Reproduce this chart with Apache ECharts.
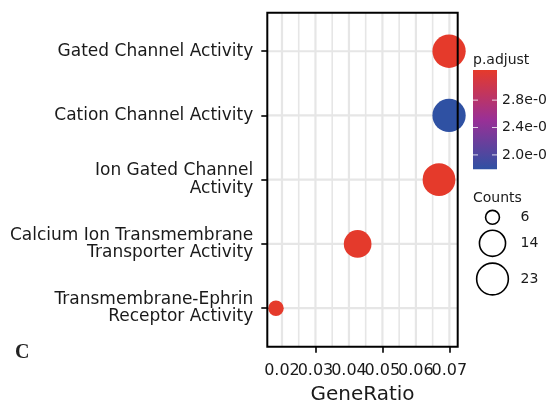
<!DOCTYPE html>
<html><head><meta charset="utf-8">
<script src="https://cdn.jsdelivr.net/npm/echarts@6/dist/echarts.min.js"></script>
<style>html,body{margin:0;padding:0;background:#fff}#c{width:547px;height:404px}</style>
</head><body><div id="c"></div>
<script>
// ---- data ----
const categories = ['Gated Channel Activity', 'Cation Channel Activity', 'Ion Gated Channel\nActivity', 'Calcium Ion Transmembrane\nTransporter Activity', 'Transmembrane-Ephrin\nReceptor Activity'];
const geneRatio = [0.0699, 0.0699, 0.0669, 0.0426, 0.0182];
const counts = [23, 23, 22, 14, 6];
const pAdjust = [3.24, 1.79, 3.24, 3.23, 3.24]; // mantissa of p.adjust
const xTicks = [0.02, 0.03, 0.04, 0.05, 0.06, 0.07];
const xMinor = [0.025, 0.035, 0.045, 0.055, 0.065];
const colorTicks = [2.0, 2.4, 2.8];
const colorTickLabels = ['2.0e-0', '2.4e-0', '2.8e-0'];
const sizeBreaks = [6, 14, 23];
const sizeLabels = ['6', '14', '23'];
const panelLabel = 'C';

// ---- scales ----
const pMin = Math.min(...pAdjust), pMax = Math.max(...pAdjust);
const cMin = Math.min(...counts), cMax = Math.max(...counts);
const dMin = 15.5, dMax = 33.3;
const sizeOf = c => dMin + (dMax - dMin) * Math.sqrt((c - cMin) / (cMax - cMin));
const xr = Math.max(...geneRatio) - Math.min(...geneRatio);
const xMin = Math.min(...geneRatio) - 0.05 * xr, xMax = Math.max(...geneRatio) + 0.05 * xr;
const yMin = -0.6, yMax = categories.length - 0.4;

const G = {left: 267.3, top: 12.7, width: 190.4, height: 334};
const blue = '#2f51a3', purple = '#9a3096', red = '#e53a2b';
const gridCol = '#e6e6e6';

// colorbar legend geometry
const cb = {x: 473, y: 70, w: 24, h: 99.3};
const cbY = v => cb.y + cb.h - (v - pMin) / (pMax - pMin) * cb.h;
const txt = '#1a1a1a';
const lf = '14px "DejaVu Sans"';
const graphic = [
  {type: 'rect', z: 50, silent: true, shape: {x: G.left, y: G.top, width: G.width, height: G.height},
   style: {fill: 'none', stroke: '#000', lineWidth: 2}},
  {type: 'text', x: 473, y: 60, style: {text: 'p.adjust', font: lf, fill: txt, verticalAlign: 'middle'}},
  {type: 'rect', shape: {x: cb.x, y: cb.y, width: cb.w, height: cb.h},
   style: {fill: new echarts.graphic.LinearGradient(0, 1, 0, 0, [
     {offset: 0, color: blue}, {offset: 0.5, color: purple}, {offset: 1, color: red}])}},
  {type: 'text', x: 473, y: 198, style: {text: 'Counts', font: lf, fill: txt, verticalAlign: 'middle'}},
  {type: 'text', x: 15, y: 353, style: {text: panelLabel, font: 'bold 20px "Liberation Serif"', fill: '#222', verticalAlign: 'middle'}}
];
colorTicks.forEach((v, i) => {
  const y = cbY(v);
  graphic.push({type: 'line', shape: {x1: cb.x, y1: y, x2: cb.x + 5, y2: y}, style: {stroke: 'rgba(255,255,255,0.8)', lineWidth: 1}});
  graphic.push({type: 'line', shape: {x1: cb.x + cb.w - 5, y1: y, x2: cb.x + cb.w, y2: y}, style: {stroke: 'rgba(255,255,255,0.8)', lineWidth: 1}});
  graphic.push({type: 'text', x: 502, y: y, style: {text: colorTickLabels[i], font: lf, fill: txt, verticalAlign: 'middle'}});
});
const sizeY = [217.3, 243.3, 279];
sizeBreaks.forEach((c, i) => {
  const d = sizeOf(c);
  graphic.push({type: 'circle', shape: {cx: 492.5, cy: sizeY[i], r: d / 2 - 0.8}, style: {fill: 'none', stroke: '#000', lineWidth: 1.6}});
  graphic.push({type: 'text', x: 520.5, y: sizeY[i], style: {text: sizeLabels[i], font: lf, fill: txt, verticalAlign: 'middle'}});
});

const data = categories.map((c, i) => [geneRatio[i], i, counts[i], pAdjust[i]]);
// grid lines: [orientation (0 = vertical, 1 = horizontal), value, width]
const gridData = xMinor.map(v => [0, v, 1.6])
  .concat(xTicks.map(v => [0, v, 2.2]))
  .concat(categories.map((c, i) => [1, i, 2.2]));

const xLabelBase = {fontFamily: 'DejaVu Sans', fontSize: 16, color: txt, margin: 16,
  formatter: v => v.toFixed(2), hideOverlap: false, showMinLabel: true, showMaxLabel: true};
const xEven = xTicks.filter((v, i) => i % 2 === 0), xOdd = xTicks.filter((v, i) => i % 2 === 1);
const xAxisBase = (vals, withName) => ({
  type: 'value', min: xMin, max: xMax, position: 'bottom', gridIndex: 0,
  name: withName ? 'GeneRatio' : '', nameLocation: 'middle', nameGap: 38,
  nameTextStyle: {fontFamily: 'DejaVu Sans', fontSize: 20, color: txt},
  axisLine: {show: false},
  axisTick: {show: true, length: 6, customValues: vals, lineStyle: {color: '#000', width: 1.6}},
  axisLabel: Object.assign({customValues: vals}, xLabelBase),
  splitLine: {show: false}
});

const chart = echarts.init(document.getElementById('c'), null, {renderer: 'canvas'});
chart.setOption({
  animation: false,
  backgroundColor: '#fff',
  grid: {left: G.left, top: G.top, width: G.width, height: G.height, show: true, backgroundColor: '#fff',
    borderWidth: 0, containLabel: false, outerBoundsMode: 'none'},
  xAxis: [xAxisBase(xEven, true), Object.assign(xAxisBase(xOdd, false), {offset: 0})],
  yAxis: {
    type: 'value', min: yMin, max: yMax, inverse: true,
    axisLine: {show: false},
    axisTick: {show: true, length: 6, customValues: categories.map((c, i) => i), lineStyle: {color: '#000', width: 1.6}},
    axisLabel: {customValues: categories.map((c, i) => i), margin: 14, fontFamily: 'DejaVu Sans', fontSize: 17,
      lineHeight: 17.6, color: txt, align: 'right', formatter: v => categories[Math.round(v)] || '',
      showMinLabel: true, showMaxLabel: true, hideOverlap: false},
    splitLine: {show: false}
  },
  visualMap: {show: false, type: 'continuous', dimension: 3, min: pMin, max: pMax, seriesIndex: 1,
    inRange: {color: [blue, purple, red]}},
  series: [
    {type: 'custom', z: 1, silent: true, clip: false, data: gridData, xAxisIndex: 0,
     dimensions: ['kind', 'val', 'w'], encode: {x: 1, y: 1},
     renderItem: (params, api) => {
       const o = gridData[params.dataIndex];
       let p1, p2;
       if (o[0] === 0) { p1 = api.coord([o[1], yMin]); p2 = api.coord([o[1], yMax]); }
       else { p1 = api.coord([xMin, o[1]]); p2 = api.coord([xMax, o[1]]); }
       return {type: 'line', shape: {x1: p1[0], y1: p1[1], x2: p2[0], y2: p2[1]},
         style: {stroke: gridCol, lineWidth: o[2], fill: null}};
     }},
    {type: 'scatter', z: 10, clip: false, data: data, xAxisIndex: 0,
     symbolSize: v => sizeOf(v[2]), itemStyle: {opacity: 1}}
  ],
  graphic: graphic
});
</script>
</body></html>
